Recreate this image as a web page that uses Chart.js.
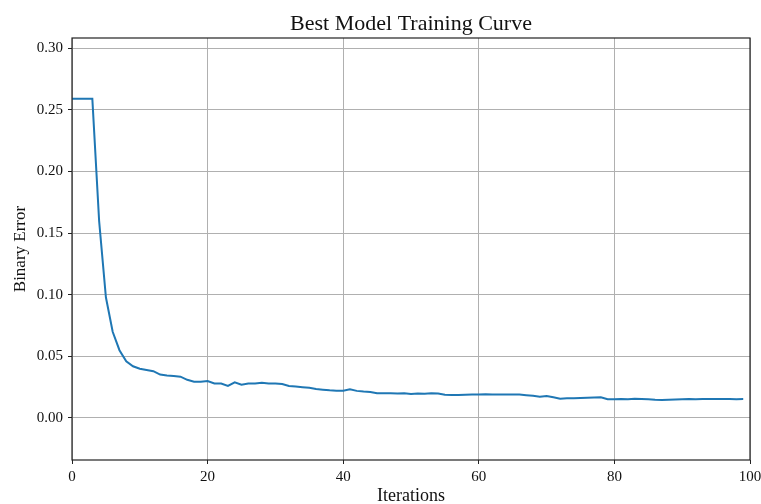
<!DOCTYPE html>
<html lang="en">
  <head>
    <meta charset="UTF-8" />
    <style>
      html, body { margin: 0; padding: 0; background: #ffffff; overflow: hidden; }
      #wrap { width: 761px; height: 504px; }
    </style>
    <title>Best Model Training Curve</title>
  </head>
  <body>
    <div id="wrap"><canvas id="graph" width="761" height="504"></canvas></div>
    <script src="https://cdn.jsdelivr.net/npm/chart.js"></script>
    <script>
      // binary error per iteration
      const errors = [
        0.259, 0.259, 0.259, 0.259, 0.160, 0.098, 0.070, 0.055, 0.046, 0.042,
        0.040, 0.039, 0.038, 0.0352, 0.0345, 0.034, 0.0335, 0.031, 0.0295, 0.0295,
        0.030, 0.028, 0.028, 0.026, 0.029, 0.027, 0.028, 0.028, 0.0285, 0.028,
        0.028, 0.0275, 0.026, 0.0255, 0.025, 0.0245, 0.0235, 0.023, 0.0225, 0.0222,
        0.0222, 0.0233, 0.022, 0.0214, 0.0211, 0.020, 0.020, 0.020, 0.0198, 0.020,
        0.0195, 0.0198, 0.0197, 0.020, 0.0198, 0.0188, 0.0187, 0.0186, 0.0188, 0.019,
        0.019, 0.0193, 0.019, 0.019, 0.019, 0.019, 0.019, 0.0185, 0.018, 0.0173,
        0.0178, 0.0168, 0.0157, 0.016, 0.016, 0.0163, 0.0165, 0.0167, 0.0168, 0.0152,
        0.0153, 0.0155, 0.0153, 0.0157, 0.0155, 0.0152, 0.0148, 0.0146, 0.0148, 0.015,
        0.0152, 0.0154, 0.0153, 0.0155, 0.0155, 0.0154, 0.0155, 0.0154, 0.0153, 0.0154
      ];
      const iterations = errors.map((_, i) => i);
      const xTicks = [0, 20, 40, 60, 80, 100];
      const yTicks = [0, 0.05, 0.1, 0.15, 0.2, 0.25, 0.3];
      const chartTitle = "Best Model Training Curve";

      const serif = "'Liberation Serif', 'DejaVu Serif', serif";

      // matplotlib-style box around the plot area, title centred over the axes
      const frame = {
        id: "frame",
        afterDraw(chart) {
          const { ctx, chartArea: a } = chart;
          ctx.save();
          ctx.strokeStyle = "#222";
          ctx.lineWidth = 1.2;
          ctx.strokeRect(a.left, a.top, a.right - a.left, a.bottom - a.top);
          ctx.fillStyle = "#111";
          ctx.font = "22px " + serif;
          ctx.textAlign = "center";
          ctx.textBaseline = "alphabetic";
          ctx.fillText(chartTitle, (a.left + a.right) / 2, 30);
          ctx.restore();
        },
      };

      new Chart(document.querySelector("#graph").getContext("2d"), {
        type: "line",
        data: {
          datasets: [
            {
              data: iterations.map((x, i) => ({ x: x, y: errors[i] })),
              borderColor: "#1f77b4",
              borderWidth: 2,
              pointRadius: 0,
              tension: 0,
              fill: false,
            },
          ],
        },
        options: {
          responsive: false,
          animation: false,
          layout: { padding: { left: 0, right: 11, top: 38, bottom: 0 } },
          plugins: {
            legend: { display: false },
            tooltip: { enabled: false },
            title: { display: false },
          },
          scales: {
            x: {
              type: "linear",
              min: 0,
              max: 100,
              afterBuildTicks: (s) => { s.ticks = xTicks.map((v) => ({ value: v })); },
              afterFit: (s) => { s.height = 44; s.paddingRight = 0; s.paddingLeft = 0; },
              ticks: {
                color: "#111",
                font: { family: serif, size: 15 },
                padding: 4,
                maxRotation: 0,
              },
              grid: { color: "#b0b0b0", lineWidth: 1, tickColor: "#222", tickLength: 4 },
              border: { display: false },
              title: {
                display: true,
                text: "Iterations",
                color: "#111",
                font: { family: serif, size: 18 },
                padding: { top: 0, bottom: -3 },
              },
            },
            y: {
              min: -0.0341,
              max: 0.3084,
              afterBuildTicks: (s) => { s.ticks = yTicks.map((v) => ({ value: v })); },
              afterFit: (s) => { s.width = 72; s.paddingTop = 0; s.paddingBottom = 0; },
              ticks: {
                color: "#111",
                font: { family: serif, size: 15 },
                padding: 5,
                callback: (v) => Number(v).toFixed(2),
              },
              grid: { color: "#b0b0b0", lineWidth: 1, tickColor: "#222", tickLength: 4 },
              border: { display: false },
              title: {
                display: true,
                text: "Binary Error",
                color: "#111",
                font: { family: serif, size: 17 },
                padding: { top: 10, bottom: 0 },
              },
            },
          },
        },
        plugins: [frame],
      });
    </script>
  </body>
</html>
